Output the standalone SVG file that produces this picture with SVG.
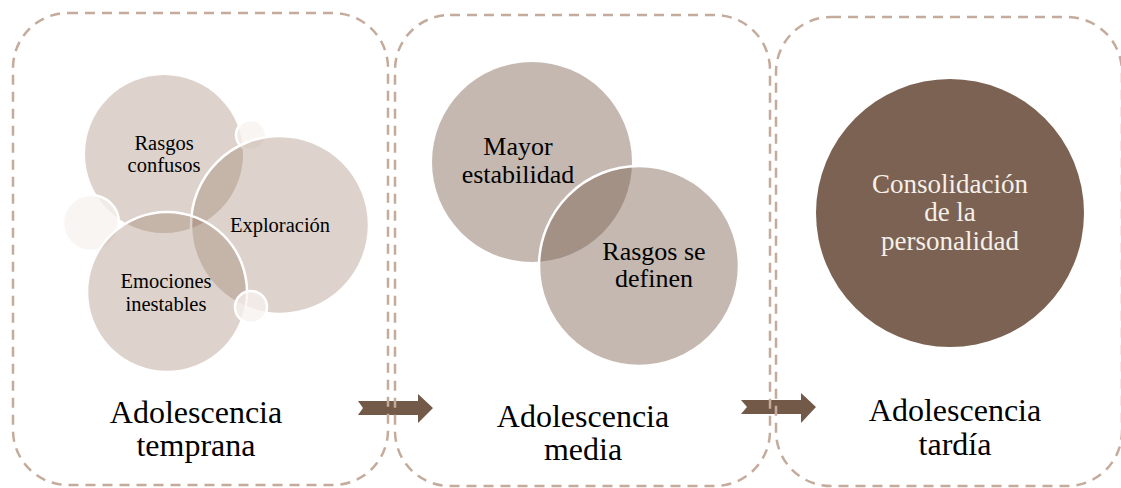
<svg xmlns="http://www.w3.org/2000/svg" width="1121" height="488" viewBox="0 0 1121 488">
<style>
.box{fill:none;stroke:#c4ab9c;stroke-width:2.5;stroke-dasharray:10 7}
.c1{fill:#8a6650;fill-opacity:0.29}
.c1s{fill:#8a6650;fill-opacity:0.29;stroke:#fff;stroke-width:2.5}
.sm{fill:#f7f2ef;fill-opacity:0.75;stroke:#fff;stroke-width:2.5}
.c2{fill:#7c6252;fill-opacity:0.45}
.c2s{fill:#7c6252;fill-opacity:0.45;stroke:#fff;stroke-width:2.5}
.c3{fill:#7c6252}
.arrow{fill:#735a48}
text{font-family:"Liberation Serif","Times New Roman",serif;text-anchor:middle;fill:#000}
.t1{font-size:20.5px}
.t2{font-size:26px}
.t3{font-size:27px;fill:#f6f0ea}
.lbl{font-size:32px}
</style>
<rect width="1121" height="488" fill="#fff"/>
<g id="connectors">
<path class="arrow" d="M358,401 L418,401 L418,394 L433,408 L418,423 L418,415 L358,415 L363,408 Z"/>
<path class="arrow" d="M741,400 L801,400 L801,393 L816,407 L801,423 L801,414 L741,414 L747,407 Z"/>
</g>
<g id="stage-temprana">
<rect class="box" x="13" y="13" width="375" height="472" rx="55"/>
<circle class="c1" cx="164" cy="154" r="79"/>
<circle class="sm" cx="251" cy="135" r="15"/>
<circle class="c1s" cx="280" cy="225" r="89"/>
<circle class="sm" cx="91" cy="223" r="28"/>
<circle class="c1s" cx="167" cy="292" r="80"/>
<circle class="sm" cx="251" cy="307" r="16"/>
<text class="t1" x="164" y="150">Rasgos</text>
<text class="t1" x="164" y="172">confusos</text>
<text class="t1" x="280" y="232">Exploración</text>
<text class="t1" x="166" y="288">Emociones</text>
<text class="t1" x="166" y="311">inestables</text>
<text class="lbl" x="196" y="423">Adolescencia</text>
<text class="lbl" x="196" y="456">temprana</text>
</g>
<g id="stage-media">
<rect class="box" x="395" y="15" width="375" height="471" rx="55"/>
<circle class="c2" cx="532" cy="162" r="100"/>
<circle class="c2s" cx="639" cy="266" r="100"/>
<text class="t2" x="518" y="155">Mayor</text>
<text class="t2" x="518" y="183">estabilidad</text>
<text class="t2" x="654" y="260">Rasgos se</text>
<text class="t2" x="654" y="287">definen</text>
<text class="lbl" x="583" y="427">Adolescencia</text>
<text class="lbl" x="583" y="460">media</text>
</g>
<g id="stage-tardia">
<rect class="box" x="776" y="17" width="346" height="469" rx="55"/>
<circle class="c3" cx="950" cy="213" r="134"/>
<text class="t3" x="950" y="193">Consolidación</text>
<text class="t3" x="950" y="221">de la</text>
<text class="t3" x="950" y="250">personalidad</text>
<text class="lbl" x="955" y="421">Adolescencia</text>
<text class="lbl" x="955" y="455">tardía</text>
</g>
</svg>
